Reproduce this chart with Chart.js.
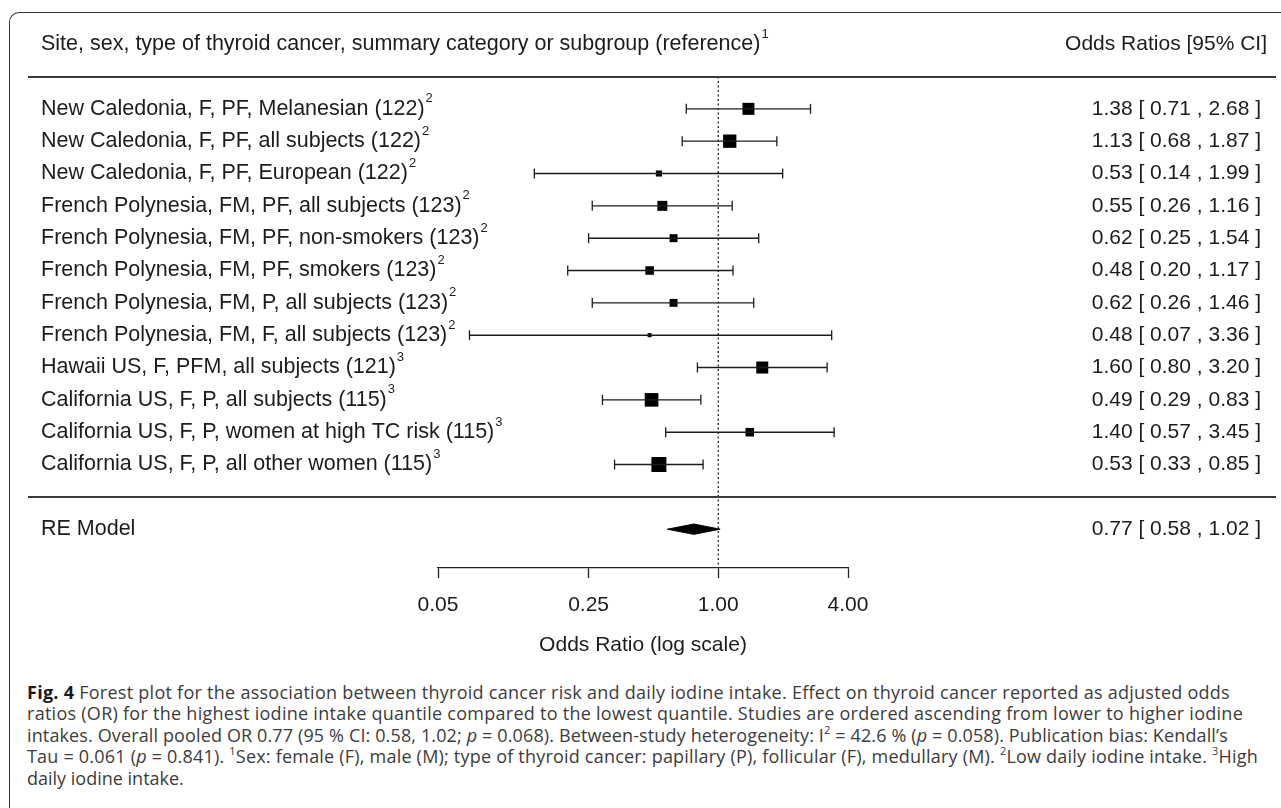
<!DOCTYPE html>
<html>
<head>
<meta charset="utf-8">
<script src="https://cdn.jsdelivr.net/npm/chart.js@4.4.0/dist/chart.umd.min.js"></script>
<style>
  html, body { margin:0; padding:0; background:#fff; }
  body { width:1281px; height:808px; position:relative; overflow:hidden; }
  #frame { position:absolute; left:9px; top:12px; width:1300px; height:830px;
           border-top:1.5px solid #333; border-left:1.5px solid #333; border-top-left-radius:10px; }
  #wrap { position:absolute; left:0; top:0; width:1281px; height:660px; }
  #caption { position:absolute; left:27px; top:682px; font:18px "Open Sans", sans-serif;
             color:#3c3c3c; line-height:21.4px; white-space:nowrap; }
  #caption span { display:inline-block; }
  #caption b { color:#1a1a1a; }
  #caption sup { font-size:11px; line-height:0; vertical-align:8px; }
</style>
</head>
<body>
<div id="frame"></div>
<div id="wrap"><canvas id="forest"></canvas></div>
<div id="caption">
  <div><span data-right="1230"><b>Fig. 4</b> Forest plot for the association between thyroid cancer risk and daily iodine intake. Effect on thyroid cancer reported as adjusted odds</span></div>
  <div><span data-right="1243">ratios (OR) for the highest iodine intake quantile compared to the lowest quantile. Studies are ordered ascending from lower to higher iodine</span></div>
  <div><span data-right="1228">intakes. Overall pooled OR 0.77 (95 % CI: 0.58, 1.02; <i>p</i> = 0.068). Between-study heterogeneity: I<sup>2</sup> = 42.6 % (<i>p</i> = 0.058). Publication bias: Kendall’s</span></div>
  <div><span data-right="1258">Tau = 0.061 (<i>p</i> = 0.841). <sup>1</sup>Sex: female (F), male (M); type of thyroid cancer: papillary (P), follicular (F), medullary (M). <sup>2</sup>Low daily iodine intake. <sup>3</sup>High</span></div>
  <div><span>daily iodine intake.</span></div>
</div>
<script>
// studies, top to bottom
const studies = [
  'New Caledonia, F, PF, Melanesian (122)',
  'New Caledonia, F, PF, all subjects (122)',
  'New Caledonia, F, PF, European (122)',
  'French Polynesia, FM, PF, all subjects (123)',
  'French Polynesia, FM, PF, non-smokers (123)',
  'French Polynesia, FM, PF, smokers (123)',
  'French Polynesia, FM, P, all subjects (123)',
  'French Polynesia, FM, F, all subjects (123)',
  'Hawaii US, F, PFM, all subjects (121)',
  'California US, F, P, all subjects (115)',
  'California US, F, P, women at high TC risk (115)',
  'California US, F, P, all other women (115)'
];
const footnotes   = ['2','2','2','2','2','2','2','2','3','3','3','3'];
const oddsRatios  = [1.38, 1.13, 0.53, 0.55, 0.62, 0.48, 0.62, 0.48, 1.60, 0.49, 1.40, 0.53];
const ciLower     = [0.71, 0.68, 0.14, 0.26, 0.25, 0.20, 0.26, 0.07, 0.80, 0.29, 0.57, 0.33];
const ciUpper     = [2.68, 1.87, 1.99, 1.16, 1.54, 1.17, 1.46, 3.36, 3.20, 0.83, 3.45, 0.85];
// relative study weights (%)
const studyWeights = [10.1, 11.2, 5.1, 8.4, 6.7, 7.2, 6.7, 3.4, 10.1, 11.4, 7.2, 12.6];

const pooledLabel = 'RE Model';
const pooledOR    = [0.77];
const pooledLower = [0.58];
const pooledUpper = [1.02];

const xTicks = [0.05, 0.25, 1, 4];
const headerLeft  = 'Site, sex, type of thyroid cancer, summary category or subgroup (reference)';
const headerRight = 'Odds Ratios [95% CI]';
const axisTitle   = 'Odds Ratio (log scale)';

const INK = '#1c1c1c';
const FONT = '"Liberation Sans", Arial, sans-serif';
const ROW_HEADER = -2, ROW_SEP1 = -1, ROW_SEP2 = studies.length, ROW_POOLED = studies.length + 1;

function fmt(v){ return v.toFixed(2); }
function ciText(or, lo, hi){ return fmt(or)+' [ '+fmt(lo)+' , '+fmt(hi)+' ]'; }

function textSup(ctx, txt, sup, x, y){
  ctx.font = '21.5px '+FONT;
  ctx.textAlign = 'left';
  ctx.fillText(txt, x, y);
  if(!sup) return;
  const w = ctx.measureText(txt).width;
  ctx.font = '13px '+FONT;
  ctx.fillText(sup, x + w + 1, y - 10);
}

const tableText = {
  id: 'tableText',
  afterDraw(chart){
    const { ctx, scales:{ y } } = chart;
    ctx.save();
    ctx.strokeStyle = '#3a3a3a'; ctx.lineWidth = 2;
    [ROW_SEP1, ROW_SEP2].forEach(v => {
      const py = Math.round(y.getPixelForValue(v));
      ctx.beginPath(); ctx.moveTo(28, py); ctx.lineTo(1276, py); ctx.stroke();
    });
    ctx.fillStyle = INK; ctx.textBaseline = 'middle';
    textSup(ctx, headerLeft, '1', 41, y.getPixelForValue(ROW_HEADER));
    studies.forEach((s, i) => textSup(ctx, s, footnotes[i], 41, y.getPixelForValue(i)));
    textSup(ctx, pooledLabel, '', 41, y.getPixelForValue(ROW_POOLED));

    ctx.font = '21px '+FONT; ctx.textAlign = 'right';
    ctx.fillText(headerRight, 1267, y.getPixelForValue(ROW_HEADER));
    studies.forEach((s, i) => ctx.fillText(ciText(oddsRatios[i], ciLower[i], ciUpper[i]), 1261, y.getPixelForValue(i)));
    ctx.fillText(ciText(pooledOR[0], pooledLower[0], pooledUpper[0]), 1261, y.getPixelForValue(ROW_POOLED));
    ctx.restore();
  }
};

const ciSets = studies.map((s, i) => ({
  showLine: true, borderColor: INK, borderWidth: 1.4, pointRadius: 0,
  data: [{ x: ciLower[i], y: i }, { x: ciUpper[i], y: i }]
}));

const capPoints = [];
studies.forEach((s, i) => { capPoints.push({ x: ciLower[i], y: i }, { x: ciUpper[i], y: i }); });

const diamondH = 0.16;
const datasets = [
  { // reference line at OR = 1
    showLine: true, borderColor: '#222', borderWidth: 1.3, borderDash: [2, 2.5], pointRadius: 0,
    data: [{ x: 1, y: ROW_SEP1 }, { x: 1, y: 14.2 }]
  },
  ...ciSets,
  { data: capPoints, pointStyle: 'line', rotation: 90, pointRadius: 5, borderColor: INK, borderWidth: 1.3 },
  { data: oddsRatios.map((v, i) => ({ x: v, y: i })), pointStyle: 'rect',
    pointRadius: studyWeights.map(w => w * 1.19 / Math.SQRT2), pointBorderWidth: 0,
    backgroundColor: '#000', borderColor: '#000' },
  { showLine: true, pointRadius: 0, borderColor: '#000', borderWidth: 1,
    data: [{ x: pooledLower[0], y: ROW_POOLED }, { x: pooledOR[0], y: ROW_POOLED - diamondH }, { x: pooledUpper[0], y: ROW_POOLED }] },
  { showLine: true, pointRadius: 0, borderColor: '#000', borderWidth: 1, backgroundColor: '#000', fill: '-1',
    data: [{ x: pooledLower[0], y: ROW_POOLED }, { x: pooledOR[0], y: ROW_POOLED + diamondH }, { x: pooledUpper[0], y: ROW_POOLED }] }
];

new Chart(document.getElementById('forest'), {
  type: 'scatter',
  data: { datasets },
  options: {
    responsive: true, maintainAspectRatio: false, animation: false,
    layout: { padding: { left: 438, right: 433, top: 28, bottom: 0 } },
    plugins: { legend: { display: false }, tooltip: { enabled: false } },
    scales: {
      x: {
        type: 'logarithmic', min: xTicks[0], max: xTicks[xTicks.length - 1],
        afterBuildTicks: s => { s.ticks = xTicks.map(v => ({ value: v })); },
        afterFit: s => { s.height = 92; },
        grid: { drawOnChartArea: false, drawTicks: true, tickLength: 10, tickColor: '#222', tickWidth: 1.3 },
        border: { display: true, color: '#222', width: 1.3 },
        ticks: { color: INK, font: { family: FONT, size: 21 }, padding: 15, maxRotation: 0,
                 autoSkip: false, callback: v => fmt(Number(v)) },
        title: { display: true, text: axisTitle, color: INK, font: { family: FONT, size: 21 }, padding: { top: 4, bottom: 2 } }
      },
      y: { type: 'linear', display: false, reverse: true, min: -2.5, max: 14.2 }
    }
  },
  plugins: [tableText]
});

// stretch caption lines to the measured line ends of the figure legend
function fitCaption(){
  document.querySelectorAll('#caption span[data-right]').forEach(sp => {
    sp.style.letterSpacing = '0px';
    const r = sp.getBoundingClientRect();
    const target = +sp.dataset.right - r.left;
    const n = sp.textContent.length;
    sp.style.letterSpacing = ((target - r.width) / n).toFixed(3) + 'px';
  });
}
if (document.fonts && document.fonts.ready) document.fonts.ready.then(fitCaption); else fitCaption();
fitCaption();
</script>
</body>
</html>
